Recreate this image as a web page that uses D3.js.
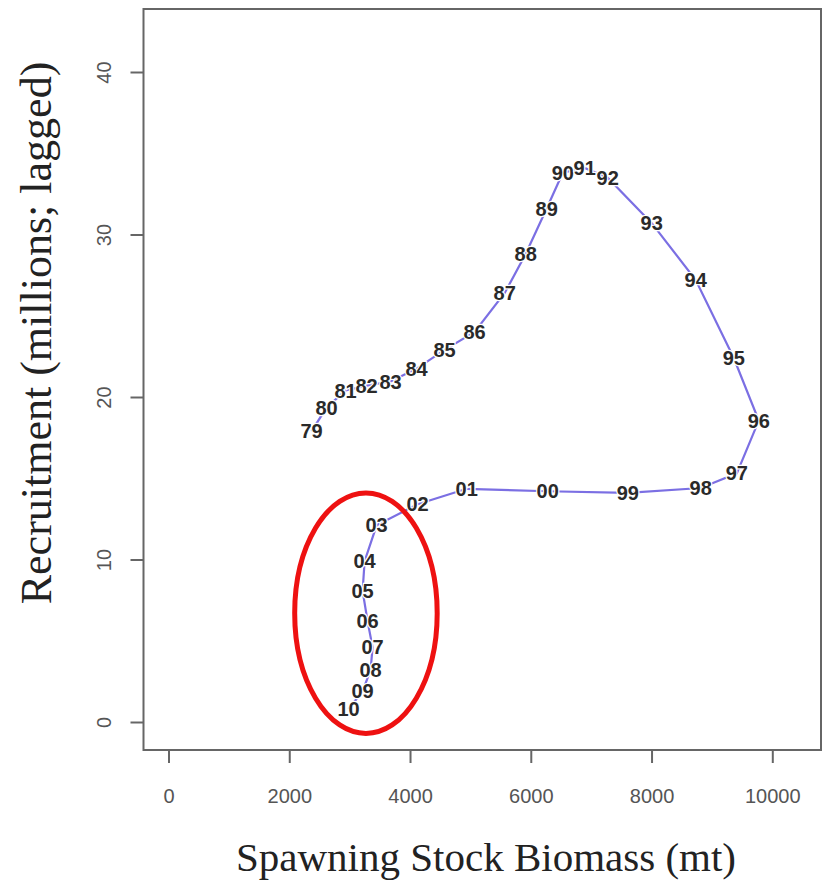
<!DOCTYPE html>
<html><head><meta charset="utf-8">
<script src="https://cdn.jsdelivr.net/npm/d3@7/dist/d3.min.js"></script>
<style>body{margin:0;background:#fff}</style>
</head><body>
<svg id="c" width="825" height="881"></svg>
<script>
const years = ["79","80","81","82","83","84","85","86","87","88","89","90","91","92","93","94","95","96","97","98","99","00","01","02","03","04","05","06","07","08","09","10"];
const ssb = [2370,2618,2933,3281,3679,4109,4573,5070,5568,5915,6263,6530,6893,7274,8003,8732,9362,9776,9412,8815,7606,6280,4938,4126,3447,3248,3215,3297,3380,3347,3215,2983];
const recruit = [17.9,19.35,20.4,20.7,20.95,21.75,22.9,24.0,26.4,28.8,31.6,33.8,34.1,33.5,30.7,27.2,22.4,18.55,15.3,14.4,14.1,14.2,14.35,13.4,12.1,9.9,8.07,6.2,4.6,3.2,1.9,0.8];
const xTicks = [0,2000,4000,6000,8000,10000];
const yTicks = [0,10,20,30,40];
// annotation ellipse in data units: [cx, cy, rx, ry]
const ellipseData = [3270, 6.7, 1180, 7.4];

const svg = d3.select("#c");
const x = d3.scaleLinear().domain([0,10000]).range([168.5,772.3]);
const y = d3.scaleLinear().domain([0,40]).range([722,72]);
const frame = {l:143.5, t:9, r:821, b:750};

// frame
svg.append("rect").attr("x",frame.l).attr("y",frame.t)
  .attr("width",frame.r-frame.l).attr("height",frame.b-frame.t)
  .attr("fill","none").attr("stroke","#666").attr("stroke-width",2);

// x axis
const xa = svg.append("g").attr("transform",`translate(0,${frame.b})`)
  .call(d3.axisBottom(x).tickValues(xTicks).tickSize(13).tickPadding(26).tickFormat(d3.format("d")));
xa.select(".domain").remove();
xa.selectAll("line").attr("stroke","#666").attr("stroke-width",2);
xa.selectAll("text").attr("fill","#555").style("font-family","Liberation Sans, Arial, sans-serif").style("font-size","20px");

// y axis
const ya = svg.append("g").attr("transform",`translate(${frame.l},0)`)
  .call(d3.axisLeft(y).tickValues(yTicks).tickSize(13).tickFormat(d3.format("d")));
ya.select(".domain").remove();
ya.selectAll("line").attr("stroke","#666").attr("stroke-width",2);
ya.selectAll("text").attr("fill","#555").style("font-family","Liberation Sans, Arial, sans-serif").style("font-size","20px")
  .attr("x",null).attr("dy",null)
  .attr("transform","translate(-40,0) rotate(-90)")
  .attr("text-anchor","middle").attr("dominant-baseline","central");

// line
const pts = years.map((yr,i)=>({yr, x:ssb[i], y:recruit[i]}));
svg.append("path").datum(pts)
  .attr("d", d3.line().x(d=>x(d.x)).y(d=>y(d.y)))
  .attr("fill","none").attr("stroke","#7b6fe3").attr("stroke-width",2.2);

// labels
svg.append("g").selectAll("text").data(pts).join("text")
  .attr("x",d=>x(d.x)).attr("y",d=>y(d.y))
  .attr("text-anchor","middle").attr("dominant-baseline","central")
  .style("font-family","Liberation Sans, Arial, sans-serif").style("font-size","20px").style("font-weight","bold")
  .attr("fill","#2a2a2a")
  .attr("stroke","#fff").attr("stroke-width",2.5).style("paint-order","stroke")
  .text(d=>d.yr);

// ellipse annotation
svg.append("ellipse")
  .attr("cx", x(ellipseData[0])).attr("cy", y(ellipseData[1]))
  .attr("rx", x(ellipseData[2]) - x(0)).attr("ry", y(0) - y(ellipseData[3]))
  .attr("fill","none").attr("stroke","#ee1111").attr("stroke-width",5);

// axis titles
svg.append("text").attr("x",486).attr("y",857).attr("text-anchor","middle").attr("dominant-baseline","central")
  .style("font-family","Liberation Serif, Times New Roman, serif").style("font-size","41px").attr("fill","#222")
  .text("Spawning Stock Biomass (mt)");
svg.append("text").attr("transform","translate(36,333) rotate(-90)").attr("text-anchor","middle").attr("dominant-baseline","central")
  .style("font-family","Liberation Serif, Times New Roman, serif").style("font-size","44px").attr("fill","#222")
  .text("Recruitment (millions; lagged)");
</script>
</body></html>
